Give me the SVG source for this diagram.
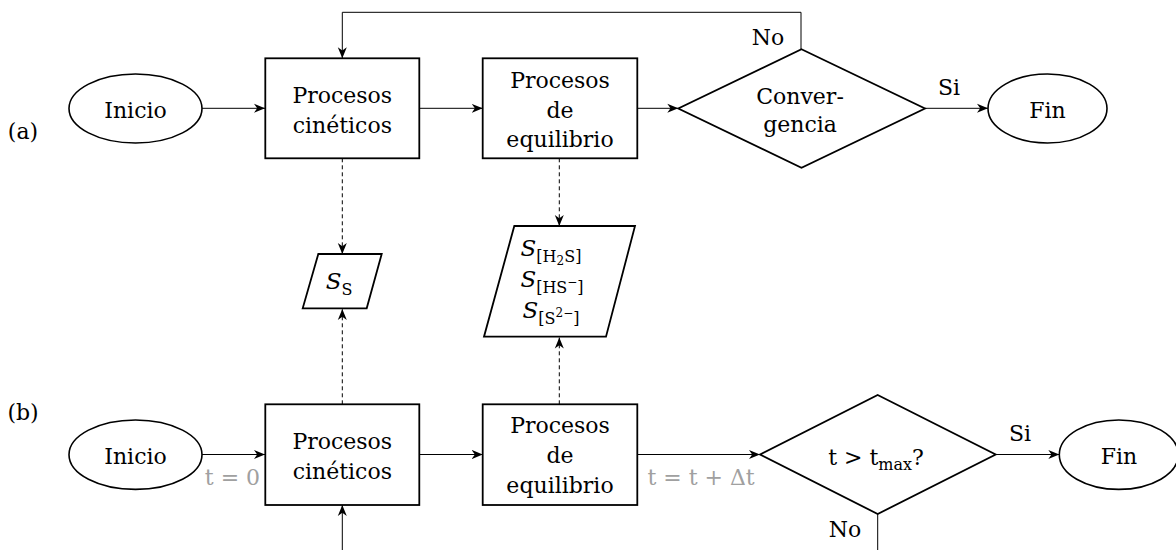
<svg xmlns="http://www.w3.org/2000/svg" width="1176" height="550" viewBox="0 0 1176 550">
<style>
  text { font-family: "DejaVu Serif", "Liberation Serif", serif; font-size: 22px; fill: #000; }
  .c { text-anchor: middle; }
  .gray { fill: #a0a0a0; }
  .shape { fill: #fff; stroke: #000; stroke-width: 1.8; }
  .ell { fill: #fff; stroke: #000; stroke-width: 1.6; }
  .con { fill: none; stroke: #000; stroke-width: 1; }
  .dash { stroke-dasharray: 4 3; }
  .mi { font-style: italic; font-size: 23px; }
  .sub { font-size: 16px; }
  .ss { font-size: 12px; }
</style>
<defs>
  <marker id="arr" markerUnits="userSpaceOnUse" markerWidth="14" markerHeight="12" refX="11" refY="6" orient="auto">
    <path d="M0,1.5 L11,6 L0,10.5 L3.2,6 Z" fill="#000"/>
  </marker>
</defs>

<g id="connectors">
  <path class="con" d="M202,108.3 H265" marker-end="url(#arr)"/>
  <path class="con" d="M419,108.3 H482.7" marker-end="url(#arr)"/>
  <path class="con" d="M637.3,108.3 H678.3" marker-end="url(#arr)"/>
  <path class="con" d="M925,108.3 H988" marker-end="url(#arr)"/>
  <path class="con" d="M801,49.3 V12.3 H342.3 V58.3" marker-end="url(#arr)"/>
  <path class="con dash" d="M342.3,158.3 V254" marker-end="url(#arr)"/>
  <path class="con dash" d="M559.3,158.3 V226" marker-end="url(#arr)"/>

  <path class="con" d="M202,454.5 H265" marker-end="url(#arr)"/>
  <path class="con" d="M419,454.5 H482.7" marker-end="url(#arr)"/>
  <path class="con" d="M637.3,454.5 H760" marker-end="url(#arr)"/>
  <path class="con" d="M995.7,454.5 H1059.3" marker-end="url(#arr)"/>
  <path class="con dash" d="M342.3,404.3 V309" marker-end="url(#arr)"/>
  <path class="con dash" d="M559.3,404.3 V337.5" marker-end="url(#arr)"/>
  <path class="con" d="M342.3,550 V505" marker-end="url(#arr)"/>
  <path class="con" d="M877.7,514 V550"/>

  <text class="c" x="768" y="45">No</text>
  <text class="c" x="949" y="95">Si</text>
  <text class="c gray" x="232.5" y="485">t = 0</text>
  <text class="c gray" x="701" y="485">t = t + Δt</text>
  <text class="c" x="1020" y="441">Si</text>
  <text class="c" x="845" y="536.7">No</text>
</g>

<g id="label-a"><text class="c" x="23" y="139">(a)</text></g>
<g id="label-b"><text class="c" x="23" y="420">(b)</text></g>

<g id="a-inicio">
  <ellipse class="ell" cx="135.5" cy="108.5" rx="66.5" ry="34.5"/>
  <text class="c" x="135.5" y="118">Inicio</text>
</g>
<g id="a-cineticos">
  <rect class="shape" x="265.3" y="58.3" width="154" height="100"/>
  <text class="c" x="342.3" y="103">Procesos</text>
  <text class="c" x="342.3" y="133">cinéticos</text>
</g>
<g id="a-equilibrio">
  <rect class="shape" x="482.7" y="58.3" width="154.6" height="100"/>
  <text class="c" x="560" y="88">Procesos</text>
  <text class="c" x="560" y="117.5">de</text>
  <text class="c" x="560" y="146.7">equilibrio</text>
</g>
<g id="a-convergencia">
  <polygon class="shape" points="801.5,49.3 925,108.5 801.5,167.7 678.3,108.5"/>
  <text class="c" x="800" y="104">Conver-</text>
  <text class="c" x="800" y="132">gencia</text>
</g>
<g id="a-fin">
  <ellipse class="ell" cx="1047.5" cy="108.5" rx="59.5" ry="34.5"/>
  <text class="c" x="1047.5" y="118">Fin</text>
</g>

<g id="out-ss">
  <polygon class="shape" points="318.3,254 381.7,254 366.7,308.3 302.7,308.3"/>
  <text class="c" x="339" y="289.3"><tspan class="mi">S</tspan><tspan class="sub" dy="5.5">S</tspan></text>
</g>
<g id="out-species">
  <polygon class="shape" points="514.3,226 635,226 606,336.7 484,336.7"/>
  <text class="c" x="551" y="256"><tspan class="mi">S</tspan><tspan class="sub" dy="5.5">[H</tspan><tspan class="ss" dy="3">2</tspan><tspan class="sub" dy="-3">S]</tspan></text>
  <text class="c" x="552" y="287"><tspan class="mi">S</tspan><tspan class="sub" dy="5.5">[HS</tspan><tspan class="ss" dy="-7">−</tspan><tspan class="sub" dy="7">]</tspan></text>
  <text class="c" x="551" y="318"><tspan class="mi">S</tspan><tspan class="sub" dy="5.5">[S</tspan><tspan class="ss" dy="-7">2−</tspan><tspan class="sub" dy="7">]</tspan></text>
</g>

<g id="b-inicio">
  <ellipse class="ell" cx="135.5" cy="454.7" rx="66.5" ry="34.7"/>
  <text class="c" x="135.5" y="464">Inicio</text>
</g>
<g id="b-cineticos">
  <rect class="shape" x="265.3" y="404.3" width="154" height="100.7"/>
  <text class="c" x="342.3" y="449.3">Procesos</text>
  <text class="c" x="342.3" y="479.3">cinéticos</text>
</g>
<g id="b-equilibrio">
  <rect class="shape" x="482.7" y="404.3" width="154.6" height="100.7"/>
  <text class="c" x="560" y="433.3">Procesos</text>
  <text class="c" x="560" y="463">de</text>
  <text class="c" x="560" y="493">equilibrio</text>
</g>
<g id="b-decision">
  <polygon class="shape" points="877.7,395 995.7,454.5 877.7,514 760,454.5"/>
  <text class="c" x="876" y="465">t &gt; t<tspan class="sub" dy="5">max</tspan><tspan dy="-5">?</tspan></text>
</g>
<g id="b-fin">
  <ellipse class="ell" cx="1118.8" cy="454.7" rx="59.5" ry="34.7"/>
  <text class="c" x="1119" y="464">Fin</text>
</g>
</svg>
